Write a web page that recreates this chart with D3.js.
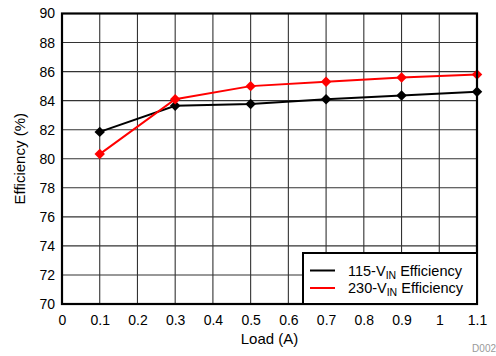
<!DOCTYPE html>
<html><head><meta charset="utf-8">
<script src="https://cdn.jsdelivr.net/npm/d3@7"></script>
<style>body{margin:0;background:#fff}svg{display:block;font-family:"Liberation Sans",Arial,sans-serif}</style>
</head><body><svg id="c" width="496" height="356"></svg>
<script>
const loads = [0.1, 0.3, 0.5, 0.7, 0.9, 1.1];
const eff115 = [81.85, 83.65, 83.77, 84.1, 84.35, 84.62];
const eff230 = [80.32, 84.1, 85.0, 85.3, 85.6, 85.8];
const xTicks = [0,0.1,0.2,0.3,0.4,0.5,0.6,0.7,0.8,0.9,1,1.1];
const yTicks = [70,72,74,76,78,80,82,84,86,88,90];
const seriesNames = ["115-V", "230-V"];
const seriesColors = ["#000000", "#ff0000"];

const svg = d3.select("#c");
const L=62, R=477, T=13.5, B=304;
const x = d3.scaleLinear().domain([0,1.1]).range([L,R]);
const y = d3.scaleLinear().domain([70,90]).range([B,T]);

const g = svg.append("g");
g.selectAll(".gx").data(xTicks).join("line")
 .attr("x1",d=>x(d)).attr("x2",d=>x(d)).attr("y1",T).attr("y2",B)
 .attr("stroke","#333").attr("stroke-width",1.1);
g.selectAll(".gy").data(yTicks).join("line")
 .attr("y1",d=>y(d)).attr("y2",d=>y(d)).attr("x1",L).attr("x2",R)
 .attr("stroke","#333").attr("stroke-width",1.1);

const xa = svg.append("g").attr("transform",`translate(0,${B})`)
 .call(d3.axisBottom(x).tickValues(xTicks).tickSize(0).tickPadding(11).tickFormat(d=>d3.format("")(+d.toFixed(1))));
xa.select(".domain").remove();
xa.selectAll("text").attr("font-size",14).attr("fill","#000").attr("font-family","Liberation Sans, Arial, sans-serif");
const ya = svg.append("g").attr("transform",`translate(${L},0)`)
 .call(d3.axisLeft(y).tickValues(yTicks).tickSize(0).tickPadding(7));
ya.select(".domain").remove();
ya.selectAll("text").attr("font-size",14).attr("fill","#000").attr("font-family","Liberation Sans, Arial, sans-serif");

const data = [eff115, eff230];
data.forEach((vals,i)=>{
  const pts = loads.map((l,j)=>[l,vals[j]]);
  svg.append("path").datum(pts)
   .attr("d", d3.line().x(d=>x(d[0])).y(d=>y(d[1])))
   .attr("fill","none").attr("stroke",seriesColors[i]).attr("stroke-width",2);
  svg.selectAll(".m"+i).data(pts).join("path")
   .attr("transform",d=>`translate(${x(d[0])},${y(d[1])})`)
   .attr("d", d3.symbol(d3.symbolDiamond2, 70)())
   .attr("fill",seriesColors[i]);
});

svg.append("rect").attr("x",L).attr("y",T).attr("width",R-L).attr("height",B-T)
 .attr("fill","none").attr("stroke","#000").attr("stroke-width",2.2);

const lg = svg.append("g");
lg.append("rect").attr("x",303).attr("y",253).attr("width",R-303).attr("height",B-253)
 .attr("fill","#fff").attr("stroke","#000").attr("stroke-width",2);
seriesNames.forEach((n,i)=>{
  const yy = 270.5 + i*17.5;
  lg.append("line").attr("x1",310).attr("x2",335).attr("y1",yy).attr("y2",yy)
   .attr("stroke",seriesColors[i]).attr("stroke-width",2);
  const t = lg.append("text").attr("x",348).attr("y",yy+5).attr("font-size",14.5).attr("fill","#000");
  t.append("tspan").text(n);
  t.append("tspan").attr("font-size",10.5).attr("dy",3).text("IN");
  t.append("tspan").attr("dy",-3).text(" Efficiency");
});

svg.append("text").attr("x",(L+R)/2).attr("y",344).attr("text-anchor","middle")
 .attr("font-size",15).text("Load (A)");
svg.append("text").attr("transform",`translate(25,${(T+B)/2}) rotate(-90)`).attr("text-anchor","middle")
 .attr("font-size",15).text("Efficiency (%)");
svg.append("text").attr("x",496).attr("y",352).attr("text-anchor","end")
 .attr("font-size",10).attr("fill","#999").text("D002");
</script></body></html>
